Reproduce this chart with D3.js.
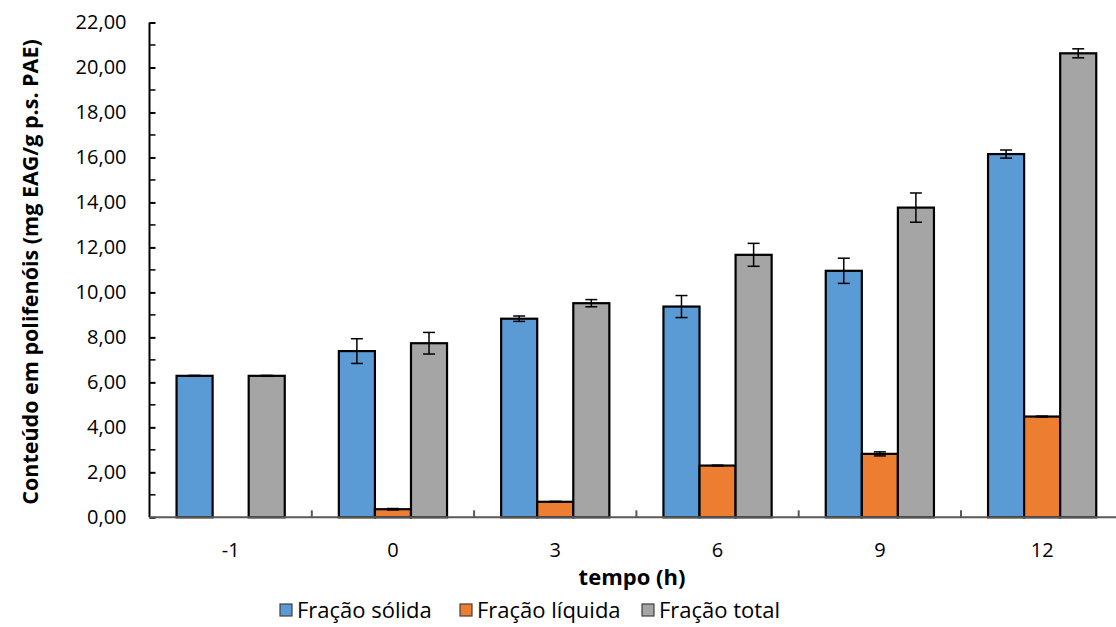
<!DOCTYPE html>
<html><head><meta charset="utf-8">
<script src="https://cdn.jsdelivr.net/npm/d3@7"></script>
<style>
body{margin:0;background:#fff;}
svg text{font-family:"Open Sans","Noto Sans",sans-serif;fill:#000;}
</style></head>
<body>
<svg id="chart" width="1116" height="627"></svg>
<script>
const categories = ["-1","0","3","6","9","12"];
const seriesNames = ["Fração sólida","Fração líquida","Fração total"];
const solida = [6.29, 7.39, 8.83, 9.37, 10.96, 16.15];
const solidaErr = [0.02, 0.55, 0.12, 0.49, 0.56, 0.18];
const liquida = [0, 0.36, 0.69, 2.30, 2.82, 4.48];
const liquidaErr = [0, 0.03, 0.02, 0.02, 0.09, 0.02];
const total = [6.29, 7.74, 9.52, 11.67, 13.77, 20.63];
const totalErr = [0.02, 0.48, 0.16, 0.51, 0.65, 0.20];
const yTicks = [0,2,4,6,8,10,12,14,16,18,20,22];
const colors = ["#5B9BD5","#ED7D31","#A5A5A5"];

const svg = d3.select("#chart");
const x0 = 149.5, x1 = 1123.3, yBottom = 517.3, yTop = 22.5;

const x = d3.scaleBand().domain(categories).range([x0, x1]).paddingInner(0).paddingOuter(0);
const groupPad = 1.5/4.5; // Excel gap width 150%
const xs = d3.scaleBand().domain(seriesNames)
  .range([x.bandwidth()*groupPad/2, x.bandwidth()*(1-groupPad/2)]);
const y = d3.scaleLinear().domain([0,22]).range([yBottom, yTop]);

const data = [];
const vals = [solida, liquida, total], errs = [solidaErr, liquidaErr, totalErr];
categories.forEach((c,i)=>{
  seriesNames.forEach((s,j)=>{
    data.push({c, s, j, v: vals[j][i], e: errs[j][i]});
  });
});

// bars
const bars = svg.append("g");
bars.selectAll("rect").data(data.filter(d=>d.v>0)).join("rect")
  .attr("x", d=>x(d.c)+xs(d.s))
  .attr("y", d=>y(d.v))
  .attr("width", xs.bandwidth())
  .attr("height", d=>y(0)-y(d.v))
  .attr("fill", d=>colors[d.j])
  .attr("stroke", "#000")
  .attr("stroke-width", 2.2);

// error bars
const eb = svg.append("g").attr("stroke","#000").attr("stroke-width",1.5);
const capW = 6;
data.filter(d=>d.v>0).forEach(d=>{
  const cx = x(d.c)+xs(d.s)+xs.bandwidth()/2;
  eb.append("line").attr("x1",cx).attr("x2",cx).attr("y1",y(d.v+d.e)).attr("y2",y(d.v-d.e));
  eb.append("line").attr("x1",cx-capW).attr("x2",cx+capW).attr("y1",y(d.v+d.e)).attr("y2",y(d.v+d.e));
  eb.append("line").attr("x1",cx-capW).attr("x2",cx+capW).attr("y1",y(d.v-d.e)).attr("y2",y(d.v-d.e));
});

// y axis
const yAxis = d3.axisLeft(y).tickValues(yTicks).tickSize(-6).tickPadding(23)
  .tickFormat(d=>d3.format(".2f")(d).replace(".",","));
const gy = svg.append("g").attr("transform",`translate(${x0},0)`).call(yAxis);
gy.select(".domain").attr("stroke","#000").attr("stroke-width",2).attr("d",`M0,${yTop}V${yBottom}`);
gy.selectAll(".tick line").attr("stroke","#000").attr("stroke-width",2);
gy.selectAll(".tick text").attr("font-size",20).style("font-family","Open Sans");
// minor ticks
const minor = d3.range(1,22,2);
gy.selectAll(".minor").data(minor).join("line").attr("class","minor")
  .attr("x1",0).attr("x2",6).attr("y1",d=>y(d)).attr("y2",d=>y(d))
  .attr("stroke","#000").attr("stroke-width",1.5);

// x axis
const gx = svg.append("g");
gx.append("line").attr("x1",x0).attr("x2",1116).attr("y1",yBottom).attr("y2",yBottom)
  .attr("stroke","#595959").attr("stroke-width",2);
gx.selectAll(".xt").data(categories.slice(1)).join("line").attr("class","xt")
  .attr("x1",d=>x(d)).attr("x2",d=>x(d)).attr("y1",yBottom).attr("y2",yBottom-7)
  .attr("stroke","#595959").attr("stroke-width",2);
gx.selectAll(".xl").data(categories).join("text").attr("class","xl")
  .attr("x",d=>x(d)+x.bandwidth()/2).attr("y",557)
  .attr("text-anchor","middle").attr("font-size",20).text(d=>d);

// axis titles
svg.append("text").attr("x",632).attr("y",585).attr("text-anchor","middle")
  .attr("font-size",22).attr("font-weight","bold").text("tempo (h)");
svg.append("text").attr("transform","translate(38,272) rotate(-90)").attr("text-anchor","middle")
  .attr("font-size",21.5).attr("font-weight","bold").text("Conteúdo em polifenóis (mg EAG/g p.s. PAE)");

// legend
const legendX = [280, 460, 642];
const lg = svg.append("g");
seriesNames.forEach((s,j)=>{
  lg.append("rect").attr("x",legendX[j]).attr("y",604).attr("width",12).attr("height",12)
    .attr("fill",colors[j]).attr("stroke","#404040").attr("stroke-width",1.2);
  lg.append("text").attr("x",legendX[j]+17).attr("y",618).attr("font-size",22).text(s);
});
</script>
</body></html>
